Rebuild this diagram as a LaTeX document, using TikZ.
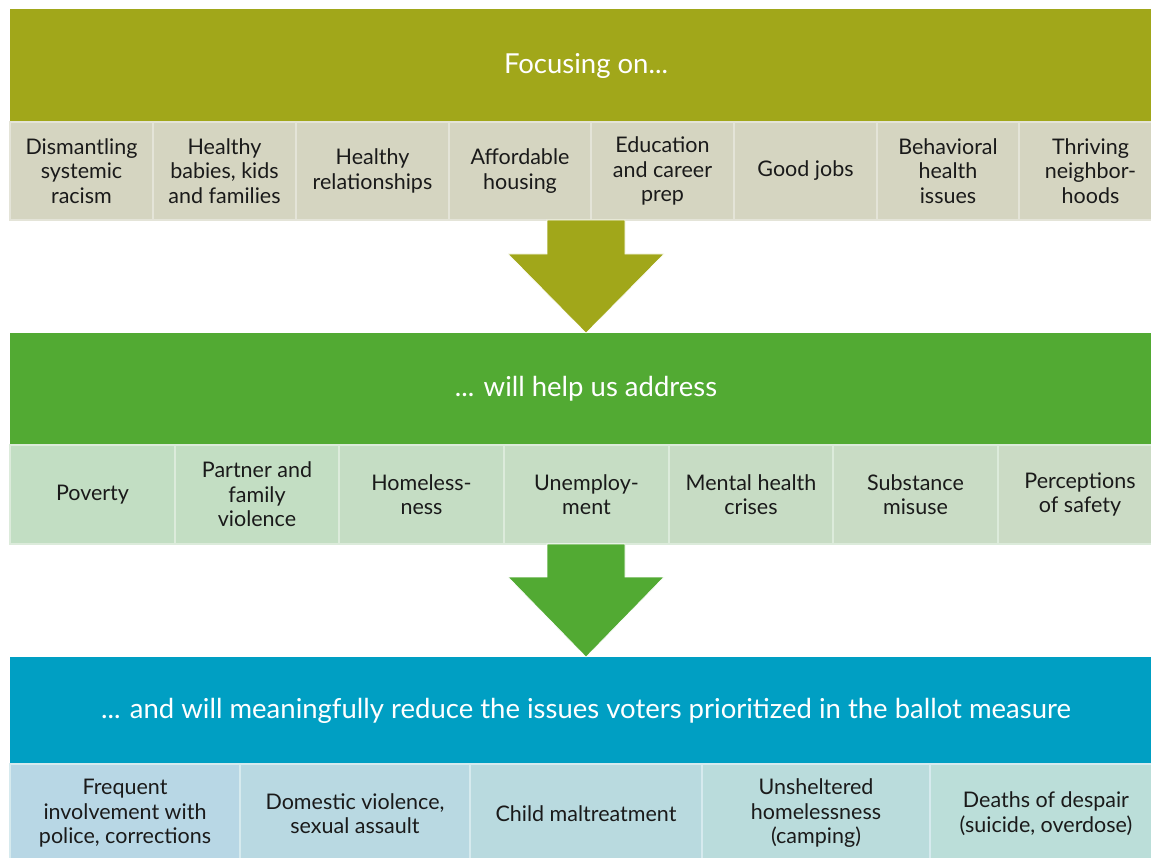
\documentclass[tikz,border=0pt]{standalone}
\usepackage{fontspec}
\setmainfont{Lato}
\usetikzlibrary{calc}
\definecolor{olive}{HTML}{A1A71A}
\definecolor{oliveCell}{HTML}{D5D5C1}
\definecolor{oliveSep}{HTML}{E4E4D8}
\definecolor{grn}{HTML}{52AA33}
\definecolor{grnCellA}{HTML}{C2DEC3}
\definecolor{grnCellB}{HTML}{CBDBC5}
\definecolor{grnSep}{HTML}{DCEBDB}
\definecolor{blu}{HTML}{009FC3}
\definecolor{bluCellA}{HTML}{B8D7E5}
\definecolor{bluCellB}{HTML}{BBDED9}
\definecolor{bluSep}{HTML}{D6EAEE}
\definecolor{ink}{HTML}{1A1A1A}
\tikzset{
  banner/.style={anchor=north west, inner sep=0pt, outer sep=0pt, minimum width=1152pt,
    text=white, font=\fontsize{27.5}{32}\selectfont},
  cellbox/.style={anchor=north west, inner sep=0pt, outer sep=0pt, line width=1.5pt,
    text=ink, align=center, font=\fontsize{21.5}{24.5}\selectfont},
  row1/.style={cellbox, fill=oliveCell, draw=oliveSep, minimum height=98pt},
  row2/.style={cellbox, draw=grnSep, minimum height=99pt},
  row3/.style={cellbox, draw=bluSep, minimum height=99pt},
  bigarrow/.style={draw=white, line width=0.6pt},
}
\begin{document}
\begin{tikzpicture}[x=1pt,y=-1pt]
\useasboundingbox (0,0) rectangle (1151,858);
\clip (0,0) rectangle (1151,858);
% banners
\node[banner, fill=olive, minimum height=113pt] (b1) at (10,9) {Focusing on...};
\node[banner, fill=grn, minimum height=112pt] (b2) at (10,333) {... will help us address};
\node[banner, fill=blu, minimum height=107pt] (b3) at (10,657) {... and will meaningfully reduce the issues voters prioritized in the ballot measure};
% row 1
\node[row1, minimum width=143pt] (r1c1) at (10,122) {Dismantling\\systemic\\racism};
\node[row1, minimum width=143pt] (r1c2) at (153,122) {Healthy\\babies, kids\\and families};
\node[row1, minimum width=153pt] (r1c3) at (296,122) {Healthy\\relationships};
\node[row1, minimum width=142pt] (r1c4) at (449,122) {Affordable\\housing};
\node[row1, minimum width=143pt] (r1c5) at (591,122) {Education\\and career\\prep};
\node[row1, minimum width=143pt] (r1c6) at (734,122) {Good jobs};
\node[row1, minimum width=142pt] (r1c7) at (877,122) {Behavioral\\health\\issues};
\node[row1, minimum width=143pt] (r1c8) at (1019,122) {Thriving\\neighbor-\\hoods};
% row 2
\node[row2, fill=grnCellA, minimum width=165pt] (r2c1) at (10,445) {Poverty};
\node[row2, fill=grnCellA!85!grnCellB, minimum width=164pt] (r2c2) at (175,445) {Partner and\\family\\violence};
\node[row2, fill=grnCellA!70!grnCellB, minimum width=165pt] (r2c3) at (339,445) {Homeless-\\ness};
\node[row2, fill=grnCellA!55!grnCellB, minimum width=165pt] (r2c4) at (504,445) {Unemploy-\\ment};
\node[row2, fill=grnCellA!40!grnCellB, minimum width=164pt] (r2c5) at (669,445) {Mental health\\crises};
\node[row2, fill=grnCellA!20!grnCellB, minimum width=165pt] (r2c6) at (833,445) {Substance\\misuse};
\node[row2, fill=grnCellB, minimum width=164pt] (r2c7) at (998,445) {Perceptions\\of safety};
% row 3
\node[row3, fill=bluCellA, minimum width=230pt] (r3c1) at (10,764) {Frequent\\involvement with\\police, corrections};
\node[row3, fill=bluCellA!75!bluCellB, minimum width=230pt] (r3c2) at (240,764) {Domestic violence,\\sexual assault};
\node[row3, fill=bluCellA!50!bluCellB, minimum width=232pt] (r3c3) at (470,764) {Child maltreatment};
\node[row3, fill=bluCellA!25!bluCellB, minimum width=228pt] (r3c4) at (702,764) {Unsheltered\\homelessness\\(camping)};
\node[row3, fill=bluCellB, minimum width=232pt] (r3c5) at (930,764) {Deaths of despair\\(suicide, overdose)};
% arrows
\draw[bigarrow, fill=olive] (b2.north) -- ++(-78,-79) -- ++(39,0)
  -- ($(b2.north |- r1c1.south)+(-39,0)$) -- ++(78,0)
  -- ($(b2.north)+(39,-79)$) -- ++(39,0) -- cycle;
\draw[bigarrow, fill=grn] (b3.north) -- ++(-78,-80) -- ++(39,0)
  -- ($(b3.north |- r2c1.south)+(-39,0)$) -- ++(78,0)
  -- ($(b3.north)+(39,-80)$) -- ++(39,0) -- cycle;
\end{tikzpicture}
\end{document}
